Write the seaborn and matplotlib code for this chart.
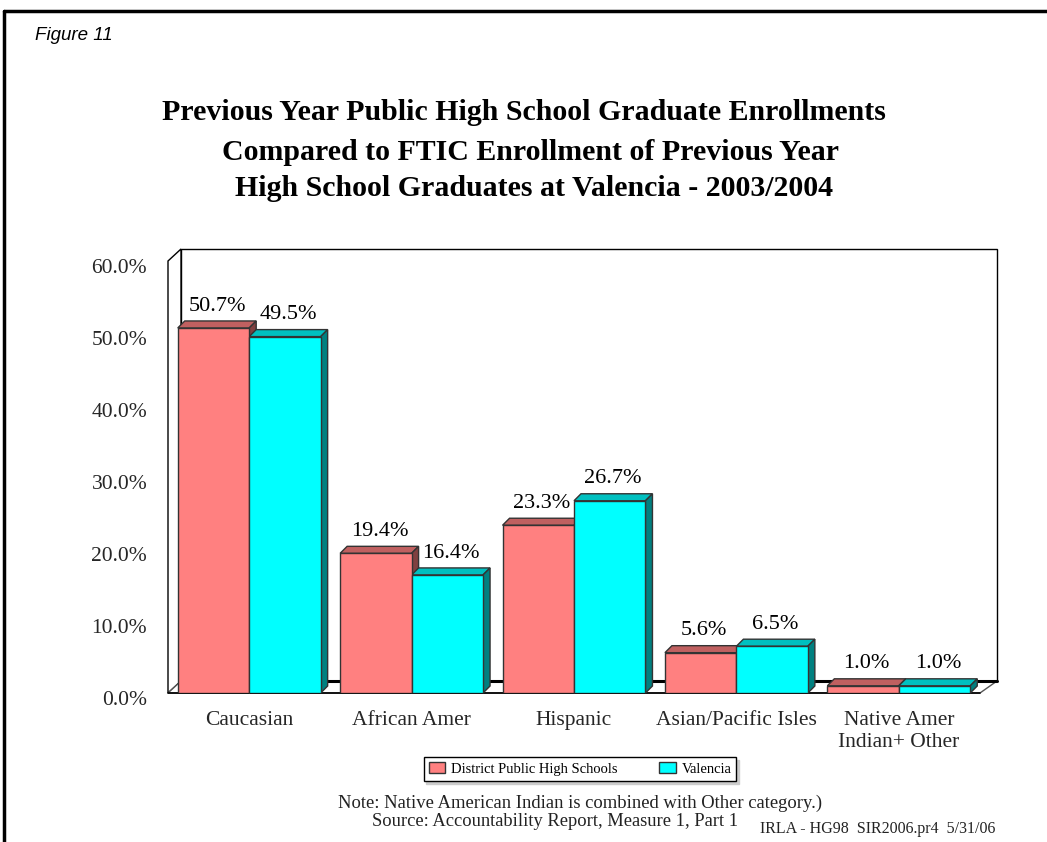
import numpy as np
import pandas as pd
import matplotlib.pyplot as plt
import matplotlib.transforms as mtransforms
from matplotlib.patches import Polygon, Patch
from matplotlib.lines import Line2D
import seaborn as sns

categories = ["Caucasian", "African Amer", "Hispanic", "Asian/Pacific Isles", "Native Amer\nIndian+ Other"]
series = ["District Public High Schools", "Valencia"]
district = [50.7, 19.4, 23.3, 5.6, 1.0]
valencia = [49.5, 16.4, 26.7, 6.5, 1.0]
yticks = [0, 10, 20, 30, 40, 50, 60]
ytick_labels = ["0.0%", "10.0%", "20.0%", "30.0%", "40.0%", "50.0%", "60.0%"]

df = pd.DataFrame({
    "Group": categories * 2,
    "Series": [series[0]] * len(categories) + [series[1]] * len(categories),
    "Pct": district + valencia,
})

sns.set_style("white")
plt.rcParams["font.family"] = ["Liberation Serif", "DejaVu Serif"]
plt.rcParams["text.color"] = "black"

front = {series[0]: "#FF8080", series[1]: "#00FFFF"}
top_c = {series[0]: "#C06060", series[1]: "#00C0C0"}
side_c = {series[0]: "#804040", series[1]: "#008080"}
edge = "#333333"

W, H = 1047, 842
fig = plt.figure(figsize=(W / 100, H / 100), dpi=100)

# axes = front plane of the 3D box (pixels: x 168..980, y 693 (0%) .. 261 (60%))
ax_l, ax_r, ax_b, ax_t = 168, 980, 693, 261
ax = fig.add_axes([ax_l / W, (H - ax_b) / H, (ax_r - ax_l) / W, (ax_b - ax_t) / H])

sns.barplot(data=df, x="Group", y="Pct", hue="Series", palette=front, width=0.88,
            saturation=1, edgecolor=edge, linewidth=1.0, legend=False, ax=ax, zorder=3)
ax.set_xlim(-0.5, len(categories) - 0.5)
ax.set_ylim(0, 60)

# data units per pixel
sx = len(categories) / (ax_r - ax_l)
sy = 60 / (ax_b - ax_t)

# walls and floor
wdx, wdy = 13 * sx, 12 * sy
x0, x1 = -0.5, len(categories) - 0.5
back_r = x0 + (997 - ax_l) * sx
wall_kw = dict(clip_on=False, closed=True)
ax.add_patch(Polygon([(x0 + wdx, wdy), (x0 + wdx, 60 + wdy), (back_r, 60 + wdy), (back_r, wdy)],
                     facecolor="white", edgecolor="black", linewidth=1.0, zorder=0, **wall_kw))
ax.add_patch(Polygon([(x0, 0), (x0 + wdx, wdy), (x0 + wdx, 60 + wdy), (x0, 60)],
                     facecolor="white", edgecolor="black", linewidth=1.0, zorder=1, **wall_kw))
ax.add_patch(Polygon([(x0, 0), (x1, 0), (back_r, wdy), (x0 + wdx, wdy)],
                     facecolor="white", edgecolor="#555555", linewidth=1.0, zorder=1, **wall_kw))
ax.plot([x0 + wdx, back_r], [wdy, wdy], color="black", linewidth=2.2, zorder=1.5, clip_on=False)
ax.plot([x0, x1], [0, 0], color="black", linewidth=1.2, zorder=1.6, clip_on=False)

# bar depth faces, built from the seaborn bars
bdx, bdy = 7 * sx, 7 * sy
bars = list(ax.patches[:len(df)])
for i, bar in enumerate(bars):
    name = series[i // len(categories)]
    bx, bw, bh = bar.get_x(), bar.get_width(), bar.get_height()
    ax.add_patch(Polygon([(bx, bh), (bx + bdx, bh + bdy), (bx + bw + bdx, bh + bdy), (bx + bw, bh)],
                         facecolor=top_c[name], edgecolor=edge, linewidth=1.0, zorder=2.5,
                         clip_on=False))
    ax.add_patch(Polygon([(bx + bw, 0), (bx + bw + bdx, bdy), (bx + bw + bdx, bh + bdy), (bx + bw, bh)],
                         facecolor=side_c[name], edgecolor=edge, linewidth=1.0, zorder=2.5,
                         clip_on=False))
    ax.annotate(f"{bh:.1f}%", xy=(bx + bw / 2 + bdx / 2, bh), xytext=(0, 12.5),
                textcoords="offset points", ha="center", va="baseline", fontsize=16,
                annotation_clip=False, zorder=5)

sns.despine(ax=ax, left=True, bottom=True)
ax.set_xlabel("")
ax.set_ylabel("")
ax.set_yticks(yticks, ytick_labels, fontsize=15.5)
ax.tick_params(axis="y", length=0, pad=15)
ax.tick_params(axis="x", length=0, pad=13, labelsize=15.5)
for lab in ax.get_yticklabels():
    lab.set_transform(lab.get_transform() + mtransforms.ScaledTranslation(0, -5 / 100, fig.dpi_scale_trans))
ax.set_facecolor("none")

# title
fig.text(524 / W, 1 - 113 / H, "Previous Year Public High School Graduate Enrollments",
         ha="center", va="center", fontsize=21.5, fontweight="bold")
fig.text(530 / W, 1 - 153 / H, "Compared to FTIC Enrollment of Previous Year",
         ha="center", va="center", fontsize=21.5, fontweight="bold")
fig.text(534 / W, 1 - 189 / H, "High School Graduates at Valencia - 2003/2004",
         ha="center", va="center", fontsize=21.5, fontweight="bold")

fig.text(35 / W, 1 - 36 / H, "Figure 11", ha="left", va="center", fontsize=13.5,
         style="italic", family=["Liberation Sans", "DejaVu Sans"])

# legend
handles = [Patch(facecolor=front[s], edgecolor=edge, linewidth=1.0) for s in series]
leg = fig.legend(handles, series, loc="center", bbox_to_anchor=(580 / W, 1 - 769 / H), ncol=2,
                 fontsize=10.5, frameon=True, fancybox=False, shadow={"color": "#cccccc", "alpha": 1},
                 edgecolor="black", handlelength=1.1, handleheight=0.8, handletextpad=0.4,
                 columnspacing=2.9, borderpad=0.35, borderaxespad=0)
leg.get_frame().set_linewidth(1.0)

fig.text(580 / W, 1 - 803 / H, "Note: Native American Indian is combined with Other category.)",
         ha="center", va="center", fontsize=13.4, color="#222222")
fig.text(555 / W, 1 - 822 / H, "Source: Accountability Report, Measure 1, Part 1",
         ha="center", va="center", fontsize=13.3, color="#222222")
fig.text(878 / W, 1 - 829 / H, "IRLA - HG98  SIR2006.pr4  5/31/06",
         ha="center", va="center", fontsize=11.5, color="#222222")

# page frame
fig.add_artist(Line2D([4 / W, 4 / W], [0, 1 - 11 / H], color="black", linewidth=2.5))
fig.add_artist(Line2D([4 / W, 1], [1 - 11 / H, 1 - 11 / H], color="black", linewidth=2.5))

fig.savefig("out.png", dpi=100)
